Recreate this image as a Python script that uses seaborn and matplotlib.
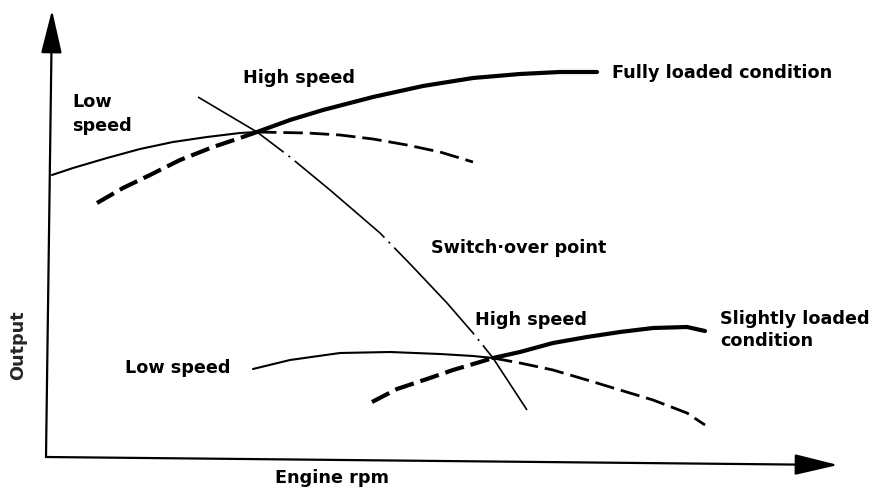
import matplotlib
matplotlib.use('Agg')
import seaborn as sns
import matplotlib.pyplot as plt

sns.set_style('white')
plt.rcParams['font.family'] = ['DejaVu Sans']
plt.rcParams['lines.scale_dashes'] = False

# schematic: engine rpm vs output, arbitrary drawing units
# fully loaded condition
full_low_rpm = [52, 73, 107, 140, 173, 207, 240, 257]
full_low_out = [317, 324, 334, 343, 350, 355, 359, 360]
full_low_ext_rpm = [257, 307, 340, 373, 407, 440, 473]
full_low_ext_out = [360, 359, 357, 353, 347, 340, 330]
full_high_ext_rpm = [97, 123, 150, 180, 213, 240, 257]
full_high_ext_out = [289, 304, 317, 332, 345, 354, 360]
full_high_rpm = [257, 290, 323, 373, 423, 473, 520, 560, 597]
full_high_out = [360, 372, 382, 395, 406, 414, 418, 420, 420]

# slightly loaded condition
slight_low_rpm = [253, 290, 340, 390, 440, 473, 493]
slight_low_out = [123, 132, 139, 140, 138, 136, 134]
slight_low_ext_rpm = [493, 520, 553, 587, 620, 653, 687, 705]
slight_low_ext_out = [134, 129, 122, 112, 102, 92, 79, 67]
slight_high_ext_rpm = [372, 397, 427, 453, 480, 493]
slight_high_ext_out = [90, 103, 113, 122, 130, 134]
slight_high_rpm = [493, 520, 553, 587, 620, 653, 687, 705]
slight_high_out = [134, 140, 149, 155, 160, 164, 165, 161]

# switch-over points line
switch_rpm = [198, 257, 290, 330, 380, 413, 447, 473, 493, 527]
switch_out = [395, 360, 335, 302, 259, 225, 189, 159, 134, 82]

fig = plt.figure(figsize=(8.73, 4.92), dpi=100)
ax = fig.add_axes([0, 0, 1, 1])
ax.set_xlim(0, 873)
ax.set_ylim(0, 492)
ax.set_axis_off()

def curve(rpm, out, lw, ls='-'):
    sns.lineplot(x=rpm, y=out, ax=ax, color='black', linewidth=lw, linestyle=ls,
                 sort=False, estimator=None, legend=False)

dash = (0, (14, 5))
curve(full_low_rpm, full_low_out, 1.5)
curve(full_low_ext_rpm, full_low_ext_out, 2.0, dash)
curve(full_high_ext_rpm, full_high_ext_out, 3.0, dash)
curve(full_high_rpm, full_high_out, 3.0)
curve(slight_low_rpm, slight_low_out, 1.5)
curve(slight_low_ext_rpm, slight_low_ext_out, 2.0, dash)
curve(slight_high_ext_rpm, slight_high_ext_out, 3.0, dash)
curve(slight_high_rpm, slight_high_out, 3.0)
curve(switch_rpm, switch_out, 1.2, (11.5, (85, 4.3, 1.5, 4.3)))

# axes drawn as arrows
arrow = dict(arrowstyle='-|>,head_length=2.7,head_width=0.65', color='black',
             lw=1.6, mutation_scale=10, shrinkA=0, shrinkB=0)
ax.annotate('', xy=(52, 482), xytext=(46, 35), arrowprops=arrow)
ax.annotate('', xy=(838, 27), xytext=(46, 35), arrowprops=arrow)

tk = dict(fontsize=12.7, fontweight='bold', color='black', va='center', ha='left')
ax.text(72, 378, 'Low\nspeed', linespacing=1.45, **tk)
ax.text(243, 414, 'High speed', **tk)
ax.text(612, 419, 'Fully loaded condition', **tk)
ax.text(431, 244, 'Switch\u00b7over point', **tk)
ax.text(475, 172, 'High speed', **tk)
ax.text(720, 162, 'Slightly loaded\ncondition', linespacing=1.3, **tk)
ax.text(125, 124, 'Low speed', **tk)
ax.text(275, 14, 'Engine rpm', **tk)
ax.text(18, 147, 'Output', rotation=90, fontsize=12.7, fontweight='bold',
        ha='center', va='center')

fig.savefig('out.png', dpi=100, facecolor='white')
